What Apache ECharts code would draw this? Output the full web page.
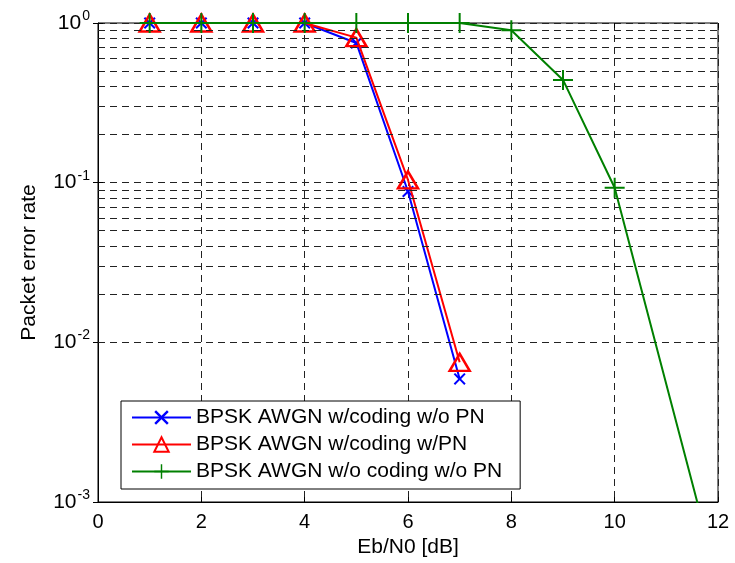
<!DOCTYPE html>
<html><head><meta charset="utf-8">
<script src="https://cdn.jsdelivr.net/npm/echarts@6/dist/echarts.min.js"></script>
<style>html,body{margin:0;padding:0;background:#fff}#c{width:735px;height:563px}</style>
</head><body><div id="c"></div>
<script>
const ebn0 = [1, 2, 3, 4, 5, 6, 7];
const perCodedNoPN = [1, 1, 1, 1, 0.75, 0.088, 0.0059];
const perCodedPN = [1, 1, 1, 1, 0.81, 0.104, 0.0075];
const ebn0Uncoded = [1, 2, 3, 4, 5, 6, 7, 8, 9, 10, 12];
const perUncoded = [1, 1, 1, 1, 1, 1, 1, 0.9, 0.44, 0.093, 0.00032];
const yMinorGrid = [0.002,0.003,0.004,0.005,0.006,0.007,0.008,0.009,
  0.02,0.03,0.04,0.05,0.06,0.07,0.08,0.09,
  0.2,0.3,0.4,0.5,0.6,0.7,0.8,0.9];
const names = ['BPSK AWGN w/coding w/o PN','BPSK AWGN w/coding w/PN','BPSK AWGN w/o coding w/o PN'];

const FONT = 'Liberation Sans, Arial, sans-serif';
const crossPath = 'path://M0,1.2 L1.2,0 L5,3.8 L8.8,0 L10,1.2 L6.2,5 L10,8.8 L8.8,10 L5,6.2 L1.2,10 L0,8.8 L3.8,5 Z';
const plusPath = 'path://M4.5,0 L5.5,0 L5.5,4.5 L10,4.5 L10,5.5 L5.5,5.5 L5.5,10 L4.5,10 L4.5,5.5 L0,5.5 L0,4.5 L4.5,4.5 Z';
const gridDash = {color: '#222', width: 1, type: [7, 5]};

const chart = echarts.init(document.getElementById('c'));
chart.setOption({
  animation: false,
  grid: {left: 98, right: 17, top: 23, bottom: 60, show: true, borderColor: '#000', borderWidth: 1, backgroundColor: '#fff'},
  legend: {
    data: names, orient: 'vertical', left: 121, top: 401,
    backgroundColor: '#fff', borderColor: '#000', borderWidth: 1,
    padding: [6, 18, 7, 10], itemGap: 6, itemWidth: 59, itemHeight: 18,
    textStyle: {fontFamily: FONT, fontSize: 21, color: '#000', lineHeight: 21}
  },
  xAxis: [{
    type: 'value', min: 0, max: 12, interval: 2,
    name: 'Eb/N0 [dB]', nameLocation: 'middle', nameGap: 35,
    nameTextStyle: {fontFamily: FONT, fontSize: 21, color: '#000'},
    axisLine: {lineStyle: {color: '#000'}},
    axisTick: {inside: true, length: 5, lineStyle: {color: '#000'}},
    axisLabel: {fontFamily: FONT, fontSize: 20, color: '#000', margin: 10},
    splitLine: {show: true, lineStyle: gridDash}
  }, {
    type: 'value', min: 0, max: 12, interval: 2, position: 'top',
    axisLine: {show: false}, axisLabel: {show: false}, splitLine: {show: false},
    axisTick: {inside: true, length: 5, lineStyle: {color: '#000'}}
  }],
  yAxis: [{
    type: 'log', logBase: 10, min: 0.001, max: 1,
    name: 'Packet error rate', nameLocation: 'middle', nameGap: 58,
    nameTextStyle: {fontFamily: FONT, fontSize: 21, color: '#000'},
    axisLine: {show: true, lineStyle: {color: '#000'}},
    axisTick: {show: true, inside: true, length: 5, lineStyle: {color: '#000'}},
    axisLabel: {
      margin: 8,
      formatter: v => '{b|10}{s|' + Math.round(Math.log10(v)) + '}',
      rich: {
        b: {fontFamily: FONT, fontSize: 21, color: '#000'},
        s: {fontFamily: FONT, fontSize: 14, color: '#000', padding: [0, 0, 14, 1]}
      }
    },
    splitLine: {show: true, lineStyle: gridDash}
  }, {
    type: 'log', logBase: 10, min: 0.001, max: 1, position: 'right',
    axisLine: {show: false}, axisLabel: {show: false}, splitLine: {show: false},
    axisTick: {show: true, inside: true, length: 5, lineStyle: {color: '#000'}}
  }],
  series: [{
    type: 'line', name: '_grid', data: [], z: 1, silent: true,
    markLine: {
      silent: true, symbol: ['none', 'none'], label: {show: false}, animation: false,
      lineStyle: gridDash, emphasis: {disabled: true},
      data: yMinorGrid.map(v => ({yAxis: v}))
    }
  }, {
    type: 'line', name: names[0], z: 3, clip: true,
    data: ebn0.map((x, i) => [x, perCodedNoPN[i]]),
    color: '#0000ff', lineStyle: {color: '#0000ff', width: 2},
    symbol: crossPath, symbolSize: 12,
    itemStyle: {color: '#0000ff'}
  }, {
    type: 'line', name: names[1], z: 4, clip: true,
    data: ebn0.map((x, i) => [x, perCodedPN[i]]),
    color: '#ff0000', lineStyle: {color: '#ff0000', width: 2},
    symbol: 'triangle', symbolSize: [20, 17],
    itemStyle: {color: 'rgba(255,255,255,0)', borderColor: '#ff0000', borderWidth: 2.5}
  }, {
    type: 'line', name: names[2], z: 5, clip: true,
    data: ebn0Uncoded.map((x, i) => [x, perUncoded[i]]),
    color: '#008000', lineStyle: {color: '#008000', width: 2},
    symbol: plusPath, symbolSize: 20,
    itemStyle: {color: '#008000'}
  }]
});
</script></body></html>
